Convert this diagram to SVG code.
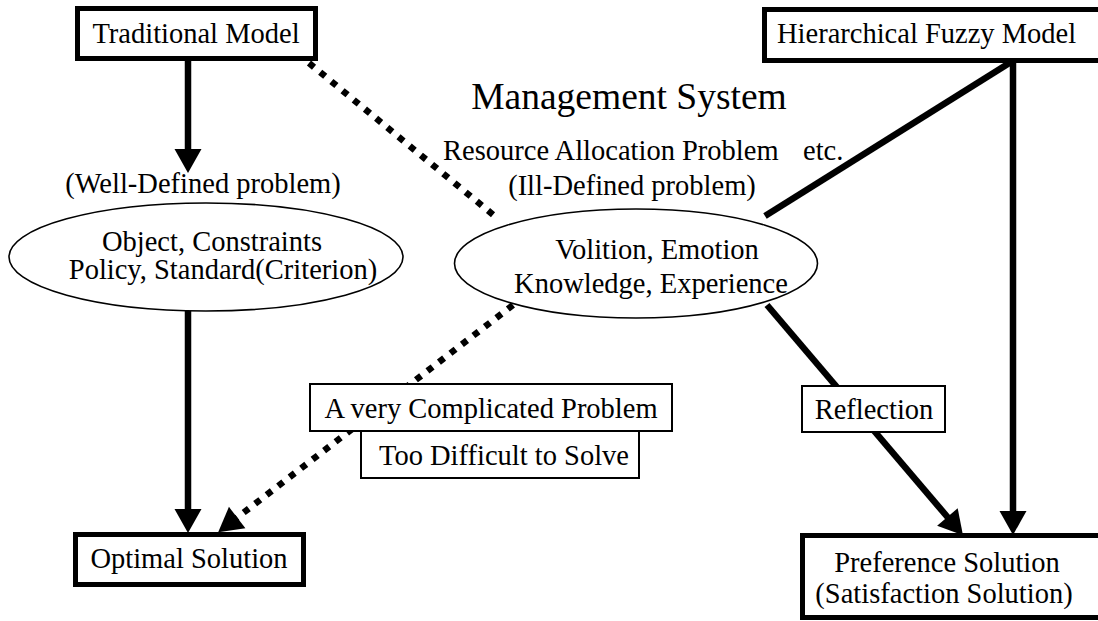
<svg xmlns="http://www.w3.org/2000/svg" width="1098" height="621" viewBox="0 0 1098 621">
  <style>
    text { font-family: "Liberation Serif", "Times New Roman", serif; font-size: 28.5px; fill: #000; }
    .mid { text-anchor: middle; }
    .title { font-size: 37.5px; }
    .thick { fill: #fff; stroke: #000; stroke-width: 5; }
    .thin { fill: #fff; stroke: #000; stroke-width: 2; }
    .oval { fill: #fff; stroke: #000; stroke-width: 1.6; }
    .solid { stroke: #000; stroke-width: 6.5; fill: none; }
    .dots { stroke: #000; stroke-width: 6.5; stroke-dasharray: 6.5 8; fill: none; }
  </style>
  <defs>
    <marker id="head" markerUnits="userSpaceOnUse" markerWidth="26" markerHeight="28"
            refX="4" refY="13.5" orient="auto" overflow="visible">
      <path d="M0,0 L24,13.5 L0,27 Z" fill="#000"/>
    </marker>
  </defs>

  <rect width="1098" height="621" fill="#fff"/>

  <!-- connectors -->
  <g id="connectors">
    <line class="solid" x1="188" y1="60" x2="188" y2="153" marker-end="url(#head)"/>
    <line class="solid" x1="188" y1="311" x2="188" y2="513" marker-end="url(#head)"/>
    <line class="dots" x1="309" y1="63" x2="497" y2="218"/>
    <line class="dots" x1="513" y1="305" x2="234" y2="520" marker-end="url(#head)"/>
    <line class="solid" x1="1011" y1="62" x2="765" y2="216"/>
    <line class="solid" x1="1013" y1="62" x2="1013" y2="515" marker-end="url(#head)"/>
    <line class="solid" x1="767" y1="305" x2="950" y2="520" marker-end="url(#head)"/>
  </g>

  <!-- free labels -->
  <g id="labels">
    <text class="title mid" x="629" y="109">Management System</text>
    <text x="443" y="160">Resource Allocation Problem</text>
    <text x="803" y="160">etc.</text>
    <text class="mid" x="632" y="195">(Ill-Defined problem)</text>
    <text class="mid" x="203" y="193">(Well-Defined problem)</text>
  </g>

  <g id="traditional-model">
    <rect class="thick" x="77.5" y="8.5" width="238" height="50"/>
    <text class="mid" x="196" y="43">Traditional Model</text>
  </g>

  <g id="hierarchical-fuzzy-model">
    <rect class="thick" x="764.5" y="9.5" width="360" height="51"/>
    <text x="777" y="43">Hierarchical Fuzzy Model</text>
  </g>

  <g id="well-defined-factors">
    <ellipse class="oval" cx="206" cy="257" rx="197" ry="54"/>
    <text class="mid" x="212" y="251">Object, Constraints</text>
    <text class="mid" x="223" y="279">Policy, Standard(Criterion)</text>
  </g>

  <g id="ill-defined-factors">
    <ellipse class="oval" cx="636" cy="263.5" rx="181.5" ry="54.5"/>
    <text class="mid" x="657" y="259">Volition, Emotion</text>
    <text class="mid" x="651" y="293">Knowledge, Experience</text>
  </g>

  <g id="too-difficult">
    <rect class="thin" x="361" y="431" width="278" height="47"/>
    <text class="mid" x="504" y="465">Too Difficult to Solve</text>
  </g>

  <g id="complicated-problem">
    <rect class="thin" x="310" y="384" width="362" height="47"/>
    <text class="mid" x="491" y="418">A very Complicated Problem</text>
  </g>

  <g id="reflection">
    <rect class="thin" x="802" y="386" width="143" height="46"/>
    <text class="mid" x="874" y="419">Reflection</text>
  </g>

  <g id="optimal-solution">
    <rect class="thick" x="75.5" y="534.5" width="228" height="50"/>
    <text class="mid" x="189" y="568">Optimal Solution</text>
  </g>

  <g id="preference-solution">
    <rect class="thick" x="802.5" y="535.5" width="320" height="82"/>
    <text class="mid" x="947" y="572">Preference Solution</text>
    <text class="mid" x="944" y="603">(Satisfaction Solution)</text>
  </g>
</svg>
